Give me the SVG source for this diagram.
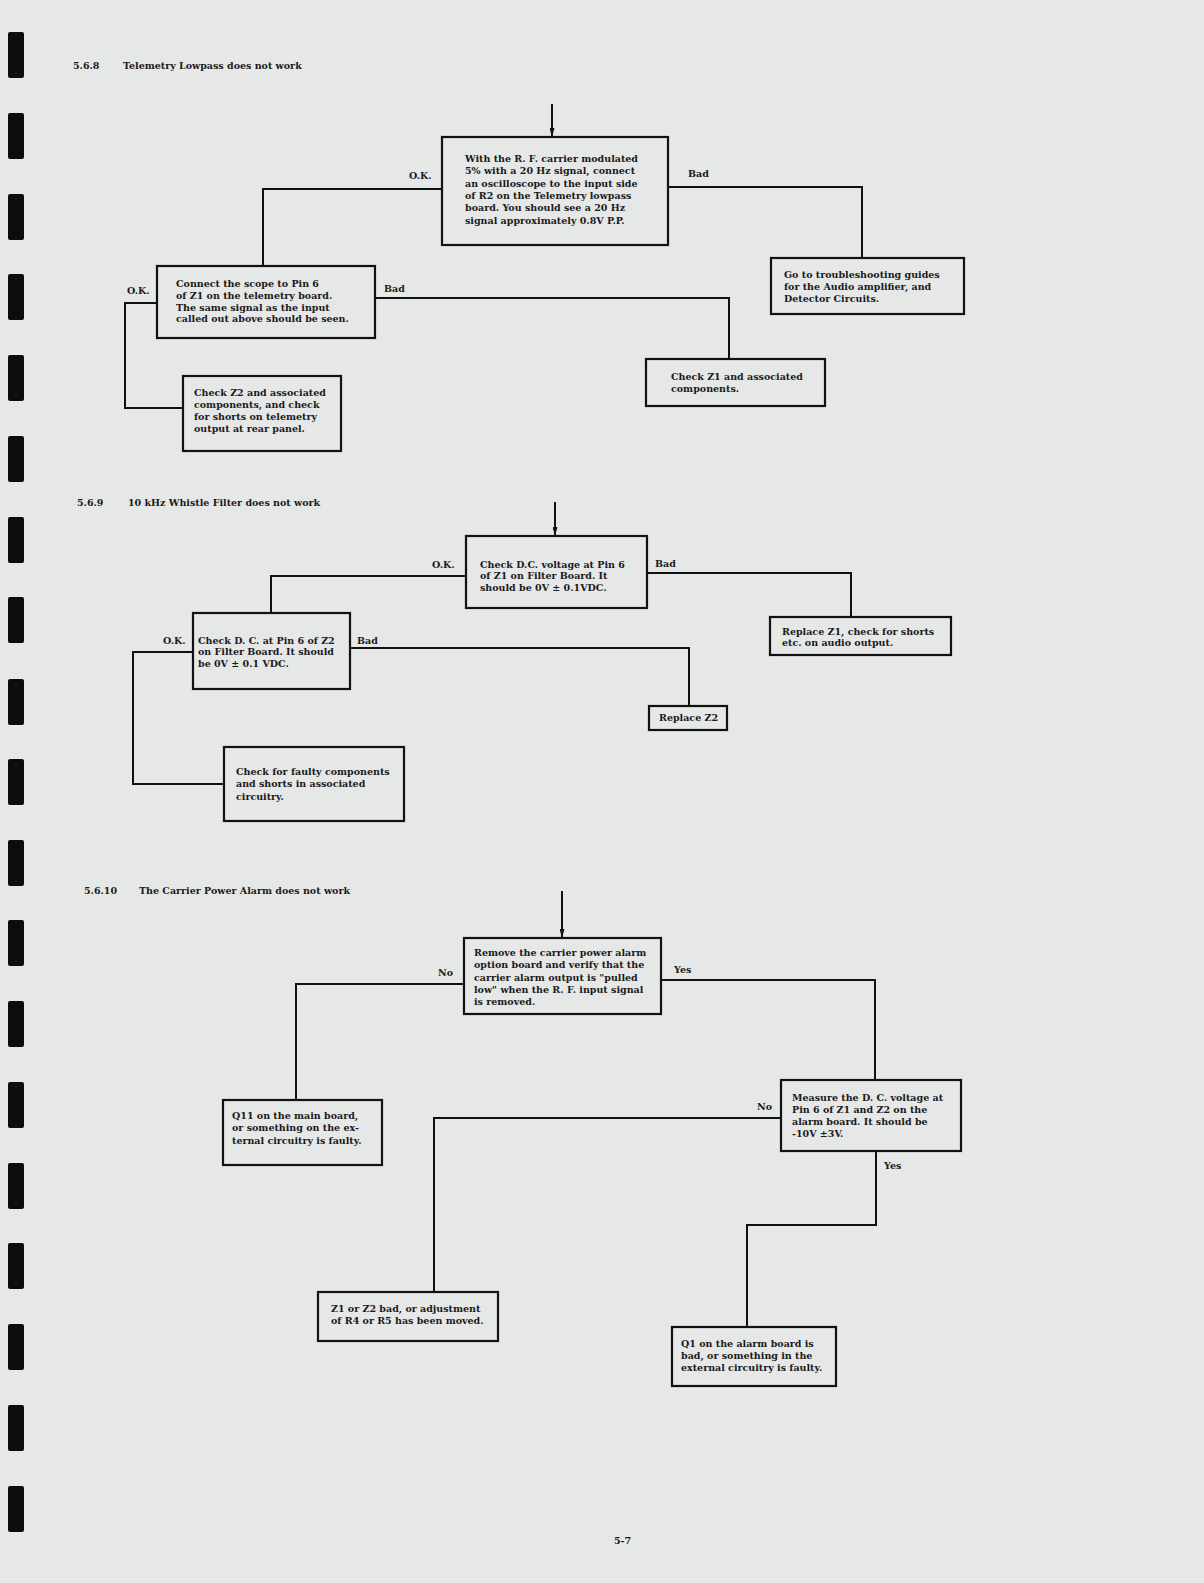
<svg xmlns="http://www.w3.org/2000/svg" width="1204" height="1583" viewBox="0 0 1204 1583">
<defs>
<style>
.t{font-family:"DejaVu Serif","Liberation Serif",serif;font-weight:bold;font-size:9.5px;fill:#1a1a1a}
.h{font-family:"DejaVu Serif","Liberation Serif",serif;font-weight:bold;font-size:9.5px;fill:#1a1a1a}
.b{fill:none;stroke:#111;stroke-width:2.2}
.c{fill:none;stroke:#111;stroke-width:2}
.bar{fill:#0d0d0d}
</style>
<marker id="ah" viewBox="0 0 9 5" refX="9" refY="2.5" markerWidth="9" markerHeight="5" markerUnits="userSpaceOnUse" orient="auto"><path d="M0,0 L9,2.5 L0,5 z" fill="#111"/></marker>
</defs>
<rect x="0" y="0" width="1204" height="1583" fill="#e6e7e7"/>
<g id="binding">
<rect class="bar" x="8" y="32" width="16" height="46" rx="2"/>
<rect class="bar" x="8" y="113" width="16" height="46" rx="2"/>
<rect class="bar" x="8" y="194" width="16" height="46" rx="2"/>
<rect class="bar" x="8" y="274" width="16" height="46" rx="2"/>
<rect class="bar" x="8" y="355" width="16" height="46" rx="2"/>
<rect class="bar" x="8" y="436" width="16" height="46" rx="2"/>
<rect class="bar" x="8" y="517" width="16" height="46" rx="2"/>
<rect class="bar" x="8" y="597" width="16" height="46" rx="2"/>
<rect class="bar" x="8" y="679" width="16" height="46" rx="2"/>
<rect class="bar" x="8" y="759" width="16" height="46" rx="2"/>
<rect class="bar" x="8" y="840" width="16" height="46" rx="2"/>
<rect class="bar" x="8" y="920" width="16" height="46" rx="2"/>
<rect class="bar" x="8" y="1001" width="16" height="46" rx="2"/>
<rect class="bar" x="8" y="1082" width="16" height="46" rx="2"/>
<rect class="bar" x="8" y="1163" width="16" height="46" rx="2"/>
<rect class="bar" x="8" y="1243" width="16" height="46" rx="2"/>
<rect class="bar" x="8" y="1324" width="16" height="46" rx="2"/>
<rect class="bar" x="8" y="1405" width="16" height="46" rx="2"/>
<rect class="bar" x="8" y="1486" width="16" height="46" rx="2"/>
</g>
<g id="titles">
<text class="h" x="73" y="68.5">5.6.8</text>
<text class="h" x="123" y="68.5">Telemetry Lowpass does not work</text>
<text class="h" x="77" y="506">5.6.9</text>
<text class="h" x="128" y="506">10 kHz Whistle Filter does not work</text>
<text class="h" x="84" y="893.5">5.6.10</text>
<text class="h" x="139" y="893.5">The Carrier Power Alarm does not work</text>
<text class="h" x="614" y="1543.5">5-7</text>
</g>
<g id="connectors">
<line class="c" x1="552" y1="104" x2="552" y2="137" marker-end="url(#ah)"/>
<polyline class="c" points="442,189 263,189 263,266"/>
<polyline class="c" points="668,187 862,187 862,258"/>
<polyline class="c" points="157,303 125,303 125,408 183,408"/>
<polyline class="c" points="375,298 729,298 729,359"/>
<line class="c" x1="555" y1="502" x2="555" y2="536" marker-end="url(#ah)"/>
<polyline class="c" points="466,576 271,576 271,613"/>
<polyline class="c" points="647,573 851,573 851,617"/>
<polyline class="c" points="193,652 133,652 133,784 224,784"/>
<polyline class="c" points="350,648 689,648 689,706"/>
<line class="c" x1="562" y1="891" x2="562" y2="938" marker-end="url(#ah)"/>
<polyline class="c" points="464,984 296,984 296,1100"/>
<polyline class="c" points="661,980 875,980 875,1080"/>
<polyline class="c" points="781,1118 434,1118 434,1292"/>
<polyline class="c" points="876,1151 876,1225 747,1225 747,1327"/>
<text class="t" x="409" y="179">O.K.</text>
<text class="t" x="688" y="177">Bad</text>
<text class="t" x="127" y="293.5">O.K.</text>
<text class="t" x="384" y="291.5">Bad</text>
<text class="t" x="432" y="567.5">O.K.</text>
<text class="t" x="655" y="567">Bad</text>
<text class="t" x="163" y="643.5">O.K.</text>
<text class="t" x="357" y="643.5">Bad</text>
<text class="t" x="438" y="975.5">No</text>
<text class="t" x="674" y="972.5">Yes</text>
<text class="t" x="757" y="1110">No</text>
<text class="t" x="884" y="1168.5">Yes</text>
</g>
<g id="n1">
<rect class="b" x="442" y="137" width="226" height="108"/>
<text class="t" x="465" y="162">With the R. F. carrier modulated</text>
<text class="t" x="465" y="174.3">5% with a 20 Hz signal, connect</text>
<text class="t" x="465" y="186.6">an oscilloscope to the input side</text>
<text class="t" x="465" y="198.9">of R2 on the Telemetry lowpass</text>
<text class="t" x="465" y="211.2">board.  You should see a 20 Hz</text>
<text class="t" x="465" y="223.5">signal approximately 0.8V P.P.</text>
</g>
<g id="n2">
<rect class="b" x="157" y="266" width="218" height="72"/>
<text class="t" x="176" y="287">Connect the scope to Pin 6</text>
<text class="t" x="176" y="298.8">of Z1 on the telemetry board.</text>
<text class="t" x="176" y="310.6">The same signal as the input</text>
<text class="t" x="176" y="322.4">called out above should be seen.</text>
</g>
<g id="n3">
<rect class="b" x="183" y="376" width="158" height="75"/>
<text class="t" x="194" y="396">Check Z2 and associated</text>
<text class="t" x="194" y="408">components, and check</text>
<text class="t" x="194" y="420">for shorts on telemetry</text>
<text class="t" x="194" y="432">output at rear panel.</text>
</g>
<g id="n4">
<rect class="b" x="646" y="359" width="179" height="47"/>
<text class="t" x="671" y="380">Check Z1 and associated</text>
<text class="t" x="671" y="392">components.</text>
</g>
<g id="n5">
<rect class="b" x="771" y="258" width="193" height="56"/>
<text class="t" x="784" y="278">Go to troubleshooting guides</text>
<text class="t" x="784" y="290">for the Audio amplifier, and</text>
<text class="t" x="784" y="302">Detector Circuits.</text>
</g>
<g id="n6">
<rect class="b" x="466" y="536" width="181" height="72"/>
<text class="t" x="480" y="567.5">Check D.C. voltage at Pin 6</text>
<text class="t" x="480" y="579">of Z1 on Filter Board.  It</text>
<text class="t" x="480" y="590.5">should be 0V ± 0.1VDC.</text>
</g>
<g id="n7">
<rect class="b" x="770" y="617" width="181" height="38"/>
<text class="t" x="782" y="634.5">Replace Z1, check for shorts</text>
<text class="t" x="782" y="646">etc. on audio output.</text>
</g>
<g id="n8">
<rect class="b" x="193" y="613" width="157" height="76"/>
<text class="t" x="198" y="643.5">Check D. C. at Pin 6 of Z2</text>
<text class="t" x="198" y="655">on Filter Board.  It should</text>
<text class="t" x="198" y="667">be 0V ± 0.1 VDC.</text>
</g>
<g id="n9">
<rect class="b" x="224" y="747" width="180" height="74"/>
<text class="t" x="236" y="774.5">Check for faulty components</text>
<text class="t" x="236" y="787">and shorts in associated</text>
<text class="t" x="236" y="799.5">circuitry.</text>
</g>
<g id="n10">
<rect class="b" x="649" y="706" width="78" height="24"/>
<text class="t" x="659" y="721">Replace Z2</text>
</g>
<g id="n11">
<rect class="b" x="464" y="938" width="197" height="76"/>
<text class="t" x="474" y="956">Remove the carrier power alarm</text>
<text class="t" x="474" y="968.3">option board and verify that the</text>
<text class="t" x="474" y="980.6">carrier alarm output is "pulled</text>
<text class="t" x="474" y="992.9">low" when the R. F. input signal</text>
<text class="t" x="474" y="1005.2">is removed.</text>
</g>
<g id="n12">
<rect class="b" x="223" y="1100" width="159" height="65"/>
<text class="t" x="232" y="1118.5">Q11 on the main board,</text>
<text class="t" x="232" y="1131">or something on the ex-</text>
<text class="t" x="232" y="1143.5">ternal circuitry is faulty.</text>
</g>
<g id="n13">
<rect class="b" x="781" y="1080" width="180" height="71"/>
<text class="t" x="792" y="1101">Measure the D. C. voltage at</text>
<text class="t" x="792" y="1112.5">Pin 6 of Z1 and Z2 on the</text>
<text class="t" x="792" y="1124.5">alarm board.  It should be</text>
<text class="t" x="792" y="1136.5">-10V ±3V.</text>
</g>
<g id="n14">
<rect class="b" x="318" y="1292" width="180" height="49"/>
<text class="t" x="331" y="1312">Z1 or Z2 bad, or adjustment</text>
<text class="t" x="331" y="1323.5">of R4 or R5 has been moved.</text>
</g>
<g id="n15">
<rect class="b" x="672" y="1327" width="164" height="59"/>
<text class="t" x="681" y="1346.5">Q1 on the alarm board is</text>
<text class="t" x="681" y="1358.5">bad, or something in the</text>
<text class="t" x="681" y="1370.5">external circuitry is faulty.</text>
</g>
</svg>
